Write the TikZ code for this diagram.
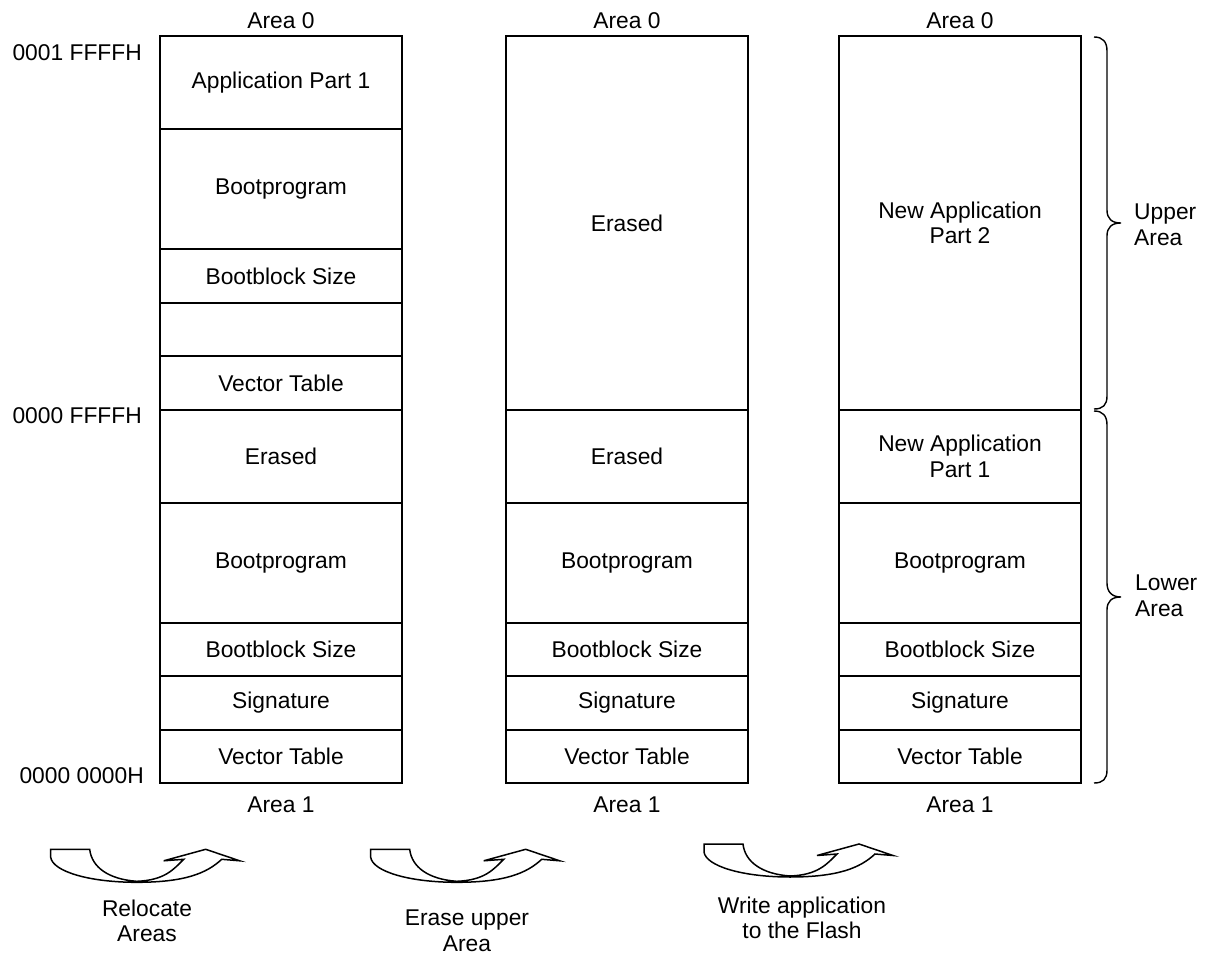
\documentclass[tikz,border=0pt]{standalone}
\usepackage{fontspec}
\setmainfont{Liberation Sans}
\begin{document}
\begin{tikzpicture}[x=1pt,y=-1pt,
  every node/.style={font=\fontsize{22.8}{25.5}\selectfont},
  cell/.style={draw, line width=1.7pt, minimum width=242pt, inner sep=0pt, outer sep=0pt, align=center},
  lbl/.style={inner sep=0pt, align=center},
  bracepath/.style={line width=1.4pt},
  curlarrow/.style={draw, fill=white, line width=1.5pt, line join=miter},
  pics/curl/.style={code={
    \draw[curlarrow] (0,0) -- (39,0)
      .. controls +(2,18) and +(-28,-2) .. (86,32)
      .. controls +(28,-1) and +(-10,10) .. (133,10)
      -- (113,11.5) -- (155,0) -- (189,11.5) -- (171,10)
      .. controls +(-15,14) and +(48,0) .. (86,33)
      .. controls +(-48,0) and +(2,14) .. (0,8) -- cycle;
  }}]
\useasboundingbox (0,0) rectangle (1211,960);

% memory cell: name, x centre, top, bottom, text
\newcommand\memcell[5]{\node[cell, minimum height={#4-#3}] (#1) at (#2,{(#3+#4)/2}) {#5};}

% column 1
\memcell{a1}{281}{36}{129}{Application Part 1}
\memcell{b1}{281}{129}{249}{Bootprogram}
\memcell{c1}{281}{249}{303}{Bootblock Size}
\memcell{d1}{281}{303}{356}{}
\memcell{e1}{281}{356}{410}{Vector Table}
\memcell{f1}{281}{410}{503}{Erased}
\memcell{g1}{281}{503}{623}{Bootprogram}
\memcell{h1}{281}{623}{676}{Bootblock Size}
\memcell{i1}{281}{676}{730}{Signature}
\memcell{j1}{281}{730}{783}{Vector Table}

% column 2
\memcell{a2}{627}{36}{410}{Erased}
\memcell{f2}{627}{410}{503}{Erased}
\memcell{g2}{627}{503}{623}{Bootprogram}
\memcell{h2}{627}{623}{676}{Bootblock Size}
\memcell{i2}{627}{676}{730}{Signature}
\memcell{j2}{627}{730}{783}{Vector Table}

% column 3
\memcell{a3}{960}{36}{410}{New Application\\Part 2}
\memcell{f3}{960}{410}{503}{New Application\\Part 1}
\memcell{g3}{960}{503}{623}{Bootprogram}
\memcell{h3}{960}{623}{676}{Bootblock Size}
\memcell{i3}{960}{676}{730}{Signature}
\memcell{j3}{960}{730}{783}{Vector Table}

% area labels
\node[lbl] (top1) at (281,21) {Area 0};
\node[lbl] (top2) at (627,21) {Area 0};
\node[lbl] (top3) at (960,21) {Area 0};
\node[lbl] (bot1) at (281,805) {Area 1};
\node[lbl] (bot2) at (627,805) {Area 1};
\node[lbl] (bot3) at (960,805) {Area 1};

% addresses
\node[lbl, anchor=east] (adr1) at (142,53) {0001 FFFFH};
\node[lbl, anchor=east] (adr2) at (142,416) {0000 FFFFH};
\node[lbl, anchor=east] (adr3) at (144,776) {0000 0000H};

% braces
\draw[bracepath] (1094,37) .. controls (1103,37) and (1107,42) .. (1107,51)
  -- (1107,210) .. controls (1107,219) and (1112,223) .. (1121,223)
  .. controls (1112,223) and (1107,227) .. (1107,236)
  -- (1107,396) .. controls (1107,405) and (1103,409) .. (1094,409);
\draw[bracepath] (1094,411) .. controls (1103,411) and (1107,416) .. (1107,425)
  -- (1107,583) .. controls (1107,592) and (1112,597) .. (1121,597)
  .. controls (1112,597) and (1107,601) .. (1107,610)
  -- (1107,770) .. controls (1107,779) and (1103,783) .. (1094,783);
\node[lbl, anchor=west, align=left] (upper) at (1134,225) {Upper\\Area};
\node[lbl, anchor=west, align=left] (lower) at (1135,596) {Lower\\Area};

% step arrows
\pic (arr1) at (50.7,849.3) {curl};
\pic (arr2) at (370.7,849.3) {curl};
\pic (arr3) at (704,844) {curl};
\node[lbl] (cap1) at (147,921) {Relocate\\Areas};
\node[lbl] (cap2) at (467,931) {Erase upper\\Area};
\node[lbl] (cap3) at (802,918) {Write application\\to the Flash};
\end{tikzpicture}
\end{document}
